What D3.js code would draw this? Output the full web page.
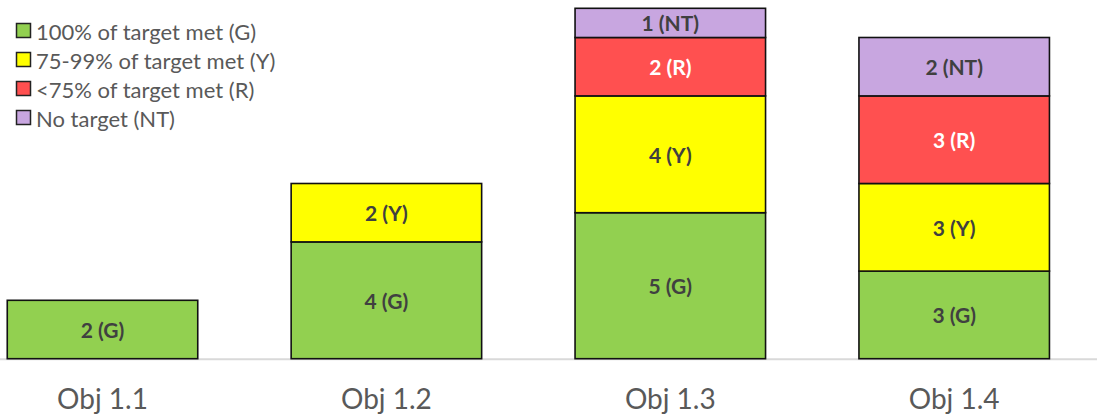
<!DOCTYPE html>
<html>
<head>
<meta charset="utf-8">
<script src="https://cdn.jsdelivr.net/npm/d3@7"></script>
<style>
  html, body { margin: 0; padding: 0; background: #fff; }
  svg { display: block; }
</style>
</head>
<body>
<svg id="chart" width="1097" height="417"></svg>
<script>
// Objectives along the x axis
const categories = ["Obj 1.1", "Obj 1.2", "Obj 1.3", "Obj 1.4"];

// Counts per status, one value per objective
const metG  = [2, 4, 5, 3];   // 100% of target met
const metY  = [0, 2, 4, 3];   // 75-99% of target met
const metR  = [0, 0, 2, 3];   // <75% of target met
const noTgt = [0, 0, 1, 2];   // no target

const seriesKeys   = ["G", "Y", "R", "NT"];
const seriesNames  = ["100% of target met (G)", "75-99% of target met (Y)", "<75% of target met (R)", "No target (NT)"];
const seriesValues = [metG, metY, metR, noTgt];
const seriesColors = ["#92D050", "#FFFF00", "#FF5050", "#C8A6E0"];
const labelColors  = ["#404040", "#404040", "#FFFFFF", "#404040"];

const yMax = 12;

const svg = d3.select("#chart");
const W = 1097;

// rows for the stack
const rows = categories.map((c, i) => {
  const r = { cat: c };
  seriesKeys.forEach((k, s) => { r[k] = seriesValues[s][i]; });
  return r;
});
const stacked = d3.stack().keys(seriesKeys)(rows);

const x = d3.scaleBand()
  .domain(categories)
  .range([-39.45, 1096.15])
  .paddingInner(0.329)
  .paddingOuter(0.1645);

const y = d3.scaleLinear().domain([0, yMax]).range([358.7, 8.3]);

// baseline
svg.append("line")
  .attr("x1", 0).attr("x2", W)
  .attr("y1", y(0) + 0.5).attr("y2", y(0) + 0.5)
  .attr("stroke", "#D9D9D9").attr("stroke-width", 2);

const fontFam = "Lato, 'Open Sans', sans-serif";

// bar segments
stacked.forEach((layer, s) => {
  const g = svg.append("g");
  layer.forEach((d, i) => {
    const v = d[1] - d[0];
    if (v <= 0) return;
    const cat = categories[i];
    g.append("rect")
      .attr("x", x(cat))
      .attr("y", y(d[1]))
      .attr("width", x.bandwidth())
      .attr("height", y(d[0]) - y(d[1]))
      .attr("fill", seriesColors[s])
      .attr("stroke", "#111")
      .attr("stroke-width", 1.6);
    g.append("text")
      .attr("x", x(cat) + x.bandwidth() / 2)
      .attr("y", (y(d[0]) + y(d[1])) / 2)
      .attr("text-anchor", "middle")
      .attr("dominant-baseline", "central")
      .attr("font-family", fontFam)
      .attr("font-weight", "bold")
      .attr("font-size", 21)
      .attr("fill", labelColors[s])
      .text(`${v} (${seriesKeys[s]})`);
  });
});

// category axis labels
const xAxis = d3.axisBottom(x).tickSize(0).tickPadding(0);
const ax = svg.append("g").attr("transform", `translate(0, ${y(0)})`).call(xAxis);
ax.select(".domain").remove();
ax.selectAll("text")
  .attr("y", 50)
  .attr("dy", 0)
  .attr("font-family", fontFam)
  .attr("font-size", 28)
  .attr("fill", "#595959");

// legend
const legend = svg.append("g").attr("transform", "translate(16, 31)");
seriesNames.forEach((name, s) => {
  const row = legend.append("g").attr("transform", `translate(0, ${s * 29})`);
  row.append("rect")
    .attr("x", 0.5).attr("y", -7.5)
    .attr("width", 14).attr("height", 14)
    .attr("fill", seriesColors[s])
    .attr("stroke", "#222").attr("stroke-width", 1.5);
  row.append("text")
    .attr("x", 20).attr("y", 0)
    .attr("dominant-baseline", "central")
    .attr("font-family", fontFam)
    .attr("font-size", 22)
    .attr("fill", "#595959")
    .text(name);
});
</script>
</body>
</html>
